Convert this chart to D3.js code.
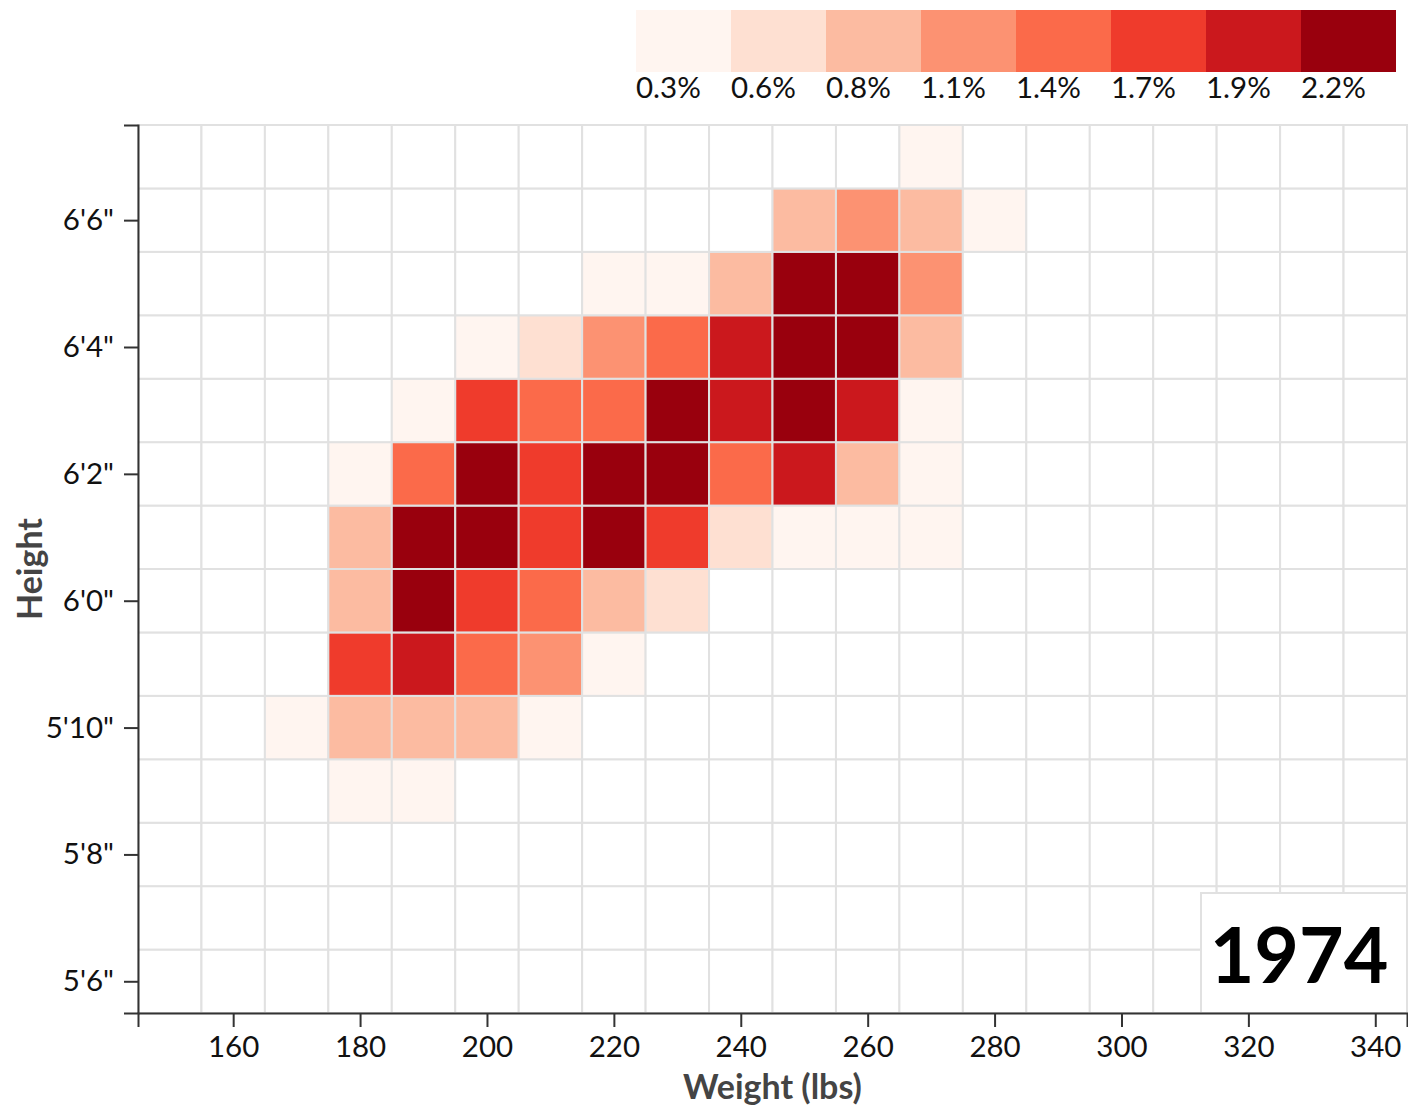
<!DOCTYPE html>
<html>
<head>
<meta charset="utf-8">
<script src="https://cdn.jsdelivr.net/npm/d3@7"></script>
<style>
  html, body { margin: 0; padding: 0; background: #fff; }
  svg { display: block; font-family: Lato, "Open Sans", sans-serif; }
</style>
</head>
<body>
<svg id="chart" width="1408" height="1110"></svg>
<script>
// ---- data ----
const year = "1974";
const weights = [170, 180, 190, 200, 210, 220, 230, 240, 250, 260, 270, 280]; // bin centres (lbs)
const heights = [79, 78, 77, 76, 75, 74, 73, 72, 71, 70, 69];                 // bin centres (inches)
// percent of players, one row per height (same order as heights), columns follow weights
const pct = [
  [0,    0,    0,    0,    0,    0,    0,    0,    0,    0,    0.12, 0   ],
  [0,    0,    0,    0,    0,    0,    0,    0,    0.72, 0.95, 0.68, 0.14],
  [0,    0,    0,    0,    0,    0.18, 0.15, 0.71, 2.12, 2.20, 0.97, 0   ],
  [0,    0,    0,    0.13, 0.46, 1.00, 1.30, 1.82, 2.18, 2.10, 0.74, 0   ],
  [0,    0,    0.16, 1.58, 1.32, 1.28, 2.05, 1.78, 2.22, 1.85, 0.12, 0   ],
  [0,    0.20, 1.26, 2.14, 1.52, 2.08, 2.16, 1.30, 1.84, 0.72, 0.14, 0   ],
  [0,    0.70, 2.20, 2.10, 1.60, 2.12, 1.55, 0.44, 0.15, 0.12, 0.16, 0   ],
  [0,    0.73, 2.18, 1.57, 1.24, 0.69, 0.48, 0,    0,    0,    0,    0   ],
  [0,    1.62, 1.78, 1.35, 0.98, 0.16, 0,    0,    0,    0,    0,    0   ],
  [0.15, 0.72, 0.75, 0.68, 0.13, 0,    0,    0,    0,    0,    0,    0   ],
  [0,    0.17, 0.14, 0,    0,    0,    0,    0,    0,    0,    0,    0   ]
];
const maxPct = 2.22;
const legendLabels = ["0.3%", "0.6%", "0.8%", "1.1%", "1.4%", "1.7%", "1.9%", "2.2%"];
const xTicks = [160, 180, 200, 220, 240, 260, 280, 300, 320, 340];
const yTicks = [66, 68, 70, 72, 74, 76, 78];
const xDomain = [145, 345];
const yDomain = [65.5, 79.5];
const binW = 10, binH = 1;

// ---- layout ----
const W = 1408, H = 1110;
const margin = {top: 125, right: 1, bottom: 97, left: 138};
const svg = d3.select("#chart");

const x = d3.scaleLinear().domain(xDomain).range([margin.left, W - margin.right]);
const y = d3.scaleLinear().domain(yDomain).range([H - margin.bottom, margin.top]);
const color = d3.scaleQuantize().domain([0, maxPct]).range(d3.schemeReds[8]);

// full grid of cells (empty ones white)
const cells = [];
for (let w = xDomain[0] + binW / 2; w < xDomain[1]; w += binW) {
  for (let h = yDomain[0] + binH / 2; h < yDomain[1]; h += binH) {
    const ci = weights.indexOf(w), ri = heights.indexOf(h);
    const v = (ci >= 0 && ri >= 0) ? pct[ri][ci] : 0;
    cells.push({w, h, v});
  }
}

svg.append("g").selectAll("rect").data(cells).join("rect")
  .attr("x", d => x(d.w - binW / 2))
  .attr("y", d => y(d.h + binH / 2))
  .attr("width", d => x(d.w + binW / 2) - x(d.w - binW / 2))
  .attr("height", d => y(d.h - binH / 2) - y(d.h + binH / 2))
  .attr("fill", d => d.v > 0 ? color(d.v) : "#fff")
  .attr("stroke", "#e1e1e1")
  .attr("stroke-width", 2);

// ---- year box ----
const yearG = svg.append("g");
const boxX = x(xDomain[1]) - 206, boxY = y(yDomain[0]) - 120;
yearG.append("rect")
  .attr("x", boxX).attr("y", boxY).attr("width", 206).attr("height", 120)
  .attr("fill", "#fff").attr("stroke", "#e1e1e1").attr("stroke-width", 2);
yearG.append("text")
  .attr("x", boxX + 98).attr("y", boxY + 90)
  .attr("text-anchor", "middle")
  .attr("font-size", 77).attr("font-weight", 700).attr("fill", "#000")
  .text(year);

// ---- axes ----
const fmtH = h => `${Math.floor(h / 12)}'${h % 12}"`;
const xAxis = d3.axisBottom(x).tickValues(xTicks).tickSize(14).tickPadding(9);
const yAxis = d3.axisLeft(y).tickValues(yTicks).tickFormat(fmtH).tickSize(14).tickPadding(10);

function styleAxis(g) {
  g.selectAll("path, line").attr("stroke", "#333").attr("stroke-width", 2);
  g.selectAll("text").attr("font-size", 29.5).attr("fill", "#111")
    .attr("font-family", "Lato, sans-serif");
}
svg.append("g").attr("transform", `translate(0,${H - margin.bottom})`).call(xAxis).call(styleAxis);
svg.append("g").attr("transform", `translate(${margin.left},0)`).call(yAxis).call(styleAxis);

svg.append("text")
  .attr("x", (margin.left + W - margin.right) / 2).attr("y", 1099)
  .attr("text-anchor", "middle").attr("font-size", 34).attr("font-weight", 700).attr("fill", "#444")
  .text("Weight (lbs)");
svg.append("text")
  .attr("transform", `translate(42,${(margin.top + H - margin.bottom) / 2}) rotate(-90)`)
  .attr("text-anchor", "middle").attr("font-size", 34).attr("font-weight", 700).attr("fill", "#444")
  .text("Height");

// ---- legend ----
const legX = d3.scaleBand().domain(d3.range(legendLabels.length)).range([636, 1396]).padding(0);
const leg = svg.append("g");
leg.selectAll("rect").data(color.range()).join("rect")
  .attr("x", (d, i) => legX(i)).attr("y", 10)
  .attr("width", legX.bandwidth()).attr("height", 62)
  .attr("fill", d => d);
leg.selectAll("text").data(legendLabels).join("text")
  .attr("x", (d, i) => legX(i)).attr("y", 98)
  .attr("font-size", 29.5).attr("fill", "#111")
  .text(d => d);
</script>
</body>
</html>
